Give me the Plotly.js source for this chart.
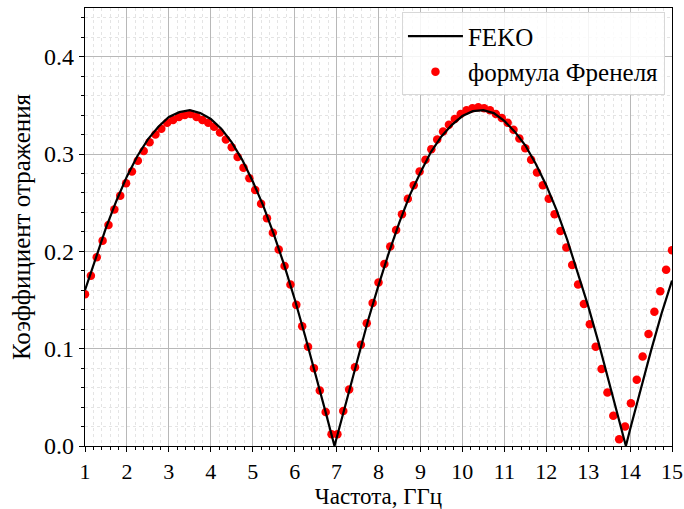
<!DOCTYPE html>
<html>
<head>
<meta charset="utf-8">
<script src="https://cdn.plot.ly/plotly-3.0.1.min.js"></script>
<style>html,body{margin:0;padding:0;background:#fff;}#chart{width:684px;height:509px;}</style>
</head>
<body>
<div id="chart"></div>
<script>
// FEKO (solid black line)
var fekoFreq = [1.00,1.25,1.50,1.75,2.00,2.25,2.50,2.75,3.00,3.25,3.50,3.75,4.00,4.25,4.50,4.75,5.00,5.25,5.50,5.75,6.00,6.25,6.50,6.75,6.95,7.00,7.25,7.50,7.75,8.00,8.25,8.50,8.75,9.00,9.25,9.50,9.75,10.00,10.25,10.50,10.75,11.00,11.25,11.50,11.75,12.00,12.25,12.50,12.75,13.00,13.25,13.50,13.75,13.90,14.00,14.25,14.50,14.75,15.00];
var fekoVal = [0.160,0.193,0.224,0.252,0.277,0.298,0.315,0.328,0.338,0.343,0.345,0.342,0.336,0.326,0.312,0.294,0.272,0.247,0.218,0.186,0.151,0.113,0.074,0.033,0.000,0.008,0.050,0.090,0.129,0.165,0.199,0.230,0.258,0.281,0.302,0.318,0.330,0.339,0.344,0.345,0.342,0.334,0.323,0.309,0.290,0.268,0.242,0.212,0.179,0.144,0.106,0.066,0.025,0.000,0.017,0.058,0.098,0.136,0.170];

// Fresnel formula (red dots)
var fresnelFreq = [1.00,1.14,1.28,1.42,1.56,1.70,1.84,1.98,2.12,2.26,2.40,2.54,2.68,2.82,2.96,3.10,3.24,3.38,3.52,3.66,3.80,3.94,4.08,4.22,4.36,4.50,4.64,4.78,4.92,5.06,5.20,5.34,5.48,5.62,5.76,5.90,6.04,6.18,6.32,6.46,6.60,6.74,6.88,7.02,7.16,7.30,7.44,7.58,7.72,7.86,8.00,8.14,8.28,8.42,8.56,8.70,8.84,8.98,9.12,9.26,9.40,9.54,9.68,9.82,9.96,10.10,10.24,10.38,10.52,10.66,10.80,10.94,11.08,11.22,11.36,11.50,11.64,11.78,11.92,12.06,12.20,12.34,12.48,12.62,12.76,12.90,13.04,13.18,13.32,13.46,13.60,13.74,13.88,14.02,14.16,14.30,14.44,14.58,14.72,14.86,15.00];
var fresnelVal = [0.156,0.175,0.194,0.211,0.227,0.243,0.257,0.270,0.282,0.293,0.303,0.312,0.320,0.326,0.332,0.335,0.338,0.340,0.341,0.338,0.335,0.332,0.328,0.322,0.315,0.307,0.297,0.286,0.275,0.263,0.249,0.234,0.219,0.202,0.185,0.166,0.145,0.123,0.102,0.080,0.057,0.035,0.012,0.012,0.036,0.058,0.081,0.104,0.126,0.147,0.168,0.187,0.205,0.222,0.238,0.254,0.268,0.282,0.294,0.305,0.315,0.323,0.330,0.336,0.341,0.345,0.347,0.348,0.347,0.345,0.341,0.337,0.332,0.325,0.316,0.306,0.294,0.281,0.268,0.254,0.238,0.221,0.204,0.186,0.166,0.146,0.125,0.102,0.079,0.055,0.031,0.007,0.020,0.044,0.068,0.092,0.115,0.138,0.159,0.181,0.201];

var xTicks = [1,2,3,4,5,6,7,8,9,10,11,12,13,14,15];
var yTicks = [0.0,0.1,0.2,0.3,0.4];
var yTickText = ['0.0','0.1','0.2','0.3','0.4'];

var FONT = 'Times New Roman, Liberation Serif, DejaVu Serif, serif';

var traces = [
  {x: fresnelFreq, y: fresnelVal, type: 'scatter', mode: 'markers', name: 'формула Френеля',
   marker: {color: '#ff0000', size: 8.5}, legendrank: 2},
  {x: fekoFreq, y: fekoVal, type: 'scatter', mode: 'lines', name: 'FEKO',
   line: {color: '#000000', width: 2.2}, legendrank: 1}
];

var layout = {
  width: 684, height: 509,
  margin: {l: 85, r: 12, t: 8, b: 63},
  paper_bgcolor: '#ffffff', plot_bgcolor: '#ffffff',
  font: {family: FONT, size: 24, color: '#000'},
  showlegend: true,
  legend: {x: 0.988, y: 0.99, xanchor: 'right', yanchor: 'top',
           bgcolor: 'rgba(255,255,255,0.85)', bordercolor: '#d8d8d8', borderwidth: 1,
           font: {family: FONT, size: 25, color: '#000'}, itemwidth: 55, tracegroupgap: 2},
  xaxis: {range: [1, 15], tickvals: xTicks, ticktext: xTicks.map(String),
          showgrid: true, gridcolor: '#b8b8b8', gridwidth: 1,
          ticks: 'outside', ticklen: 5, tickwidth: 1, tickcolor: '#000',
          showline: true, linecolor: '#000', linewidth: 1.2, mirror: true, zeroline: false,
          tickfont: {family: FONT, size: 22}, ticklabeloverflow: 'allow',
          minor: {dtick: 0.2, showgrid: true, gridcolor: '#e4e4e4', griddash: 'dot', gridwidth: 1,
                  ticks: 'outside', ticklen: 3, tickcolor: '#000'},
          title: {text: 'Частота, ГГц', font: {family: FONT, size: 23}, standoff: 9}},
  yaxis: {range: [0, 0.45], tickvals: yTicks, ticktext: yTickText,
          showgrid: true, gridcolor: '#b8b8b8', gridwidth: 1,
          ticks: 'outside', ticklen: 5, tickwidth: 1, tickcolor: '#000',
          showline: true, linecolor: '#000', linewidth: 1.2, mirror: true, zeroline: false,
          tickfont: {family: FONT, size: 24},
          minor: {dtick: 0.02, showgrid: true, gridcolor: '#e4e4e4', griddash: 'dot', gridwidth: 1,
                  ticks: 'outside', ticklen: 3, tickcolor: '#000'},
          title: {text: 'Коэффициент отражения', font: {family: FONT, size: 25}, standoff: 6}}
};

Plotly.newPlot('chart', traces, layout, {displayModeBar: false, staticPlot: true});
</script>
</body>
</html>
